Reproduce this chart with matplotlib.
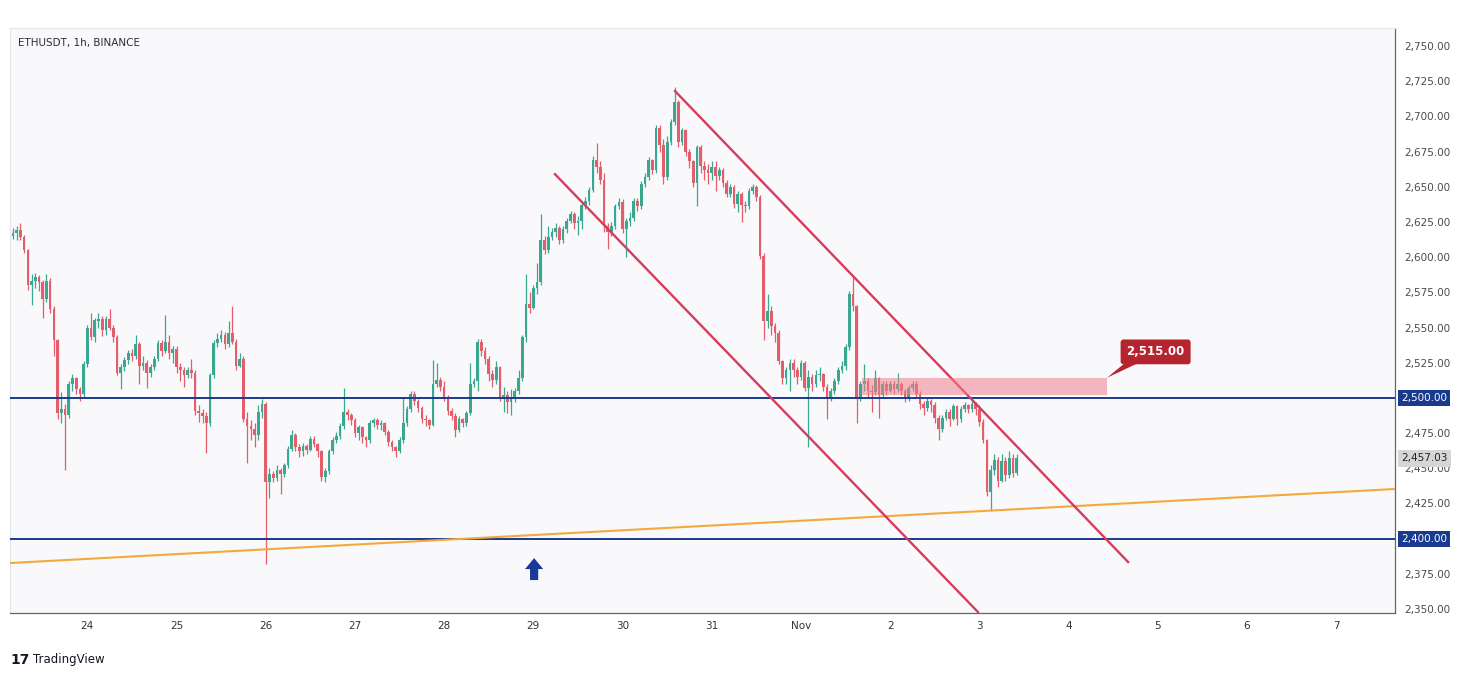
import numpy as np
import matplotlib.pyplot as plt
from matplotlib.patches import Rectangle, Polygon

plt.rcParams['font.family'] = 'DejaVu Sans'

#----------------------------------------------
# ETHUSDT 1h candles, Oct 23 04:00 -> Nov 3 10:00
#----------------------------------------------
first_open = 2615

closes = (
    [2617, 2619, 2614, 2605, 2580, 2583, 2586, 2582, 2570, 2583, 2563, 2541, 2489, 2492, 2488, 2510, 2514, 2506, 2503, 2524]  # Oct 23
  + [2550, 2543, 2555, 2556, 2548, 2556, 2550, 2543, 2518, 2522, 2527, 2532, 2530, 2538, 2523, 2525, 2518, 2522, 2528, 2539, 2533, 2540, 2532, 2535]  # Oct 24
  + [2522, 2520, 2516, 2520, 2518, 2491, 2489, 2487, 2482, 2516, 2539, 2542, 2545, 2538, 2546, 2540, 2523, 2528, 2485, 2480, 2478, 2474, 2490, 2496]  # Oct 25
  + [2440, 2446, 2443, 2449, 2446, 2452, 2464, 2474, 2465, 2462, 2466, 2463, 2471, 2467, 2462, 2444, 2448, 2462, 2470, 2473, 2480, 2490, 2488, 2484]  # Oct 26
  + [2475, 2479, 2472, 2470, 2482, 2484, 2481, 2482, 2476, 2469, 2465, 2462, 2470, 2482, 2492, 2503, 2498, 2493, 2485, 2484, 2481, 2510, 2513, 2508]  # Oct 27
  + [2501, 2491, 2487, 2477, 2485, 2482, 2489, 2510, 2512, 2540, 2533, 2528, 2517, 2513, 2522, 2500, 2502, 2497, 2499, 2505, 2514, 2543, 2567, 2564]  # Oct 28
  + [2578, 2582, 2612, 2605, 2614, 2618, 2621, 2612, 2620, 2626, 2631, 2624, 2626, 2637, 2640, 2648, 2669, 2664, 2655, 2622, 2618, 2622, 2636, 2639]  # Oct 29
  + [2620, 2626, 2628, 2640, 2636, 2652, 2657, 2669, 2662, 2692, 2680, 2657, 2682, 2696, 2710, 2682, 2690, 2675, 2668, 2653, 2678, 2665, 2662, 2660]  # Oct 30
  + [2664, 2658, 2662, 2653, 2645, 2650, 2638, 2645, 2637, 2636, 2647, 2650, 2643, 2601, 2555, 2562, 2551, 2546, 2526, 2514, 2520, 2525, 2520, 2515]  # Oct 31
  + [2525, 2507, 2515, 2510, 2516, 2517, 2508, 2500, 2505, 2512, 2520, 2523, 2536, 2574, 2565, 2500, 2510, 2512, 2505, 2504, 2514, 2502, 2510, 2505]  # Nov 1
  + [2510, 2506, 2510, 2505, 2500, 2507, 2510, 2503, 2496, 2493, 2498, 2495, 2486, 2478, 2486, 2490, 2485, 2494, 2485, 2492, 2495, 2492, 2496, 2492]  # Nov 2
  + [2483, 2470, 2433, 2449, 2456, 2441, 2455, 2445, 2457, 2447, 2457.03]  # Nov 3
)

highs = (
    [2621, 2622, 2624, 2616, 2606, 2588, 2589, 2587, 2584, 2588, 2585, 2565, 2542, 2504, 2496, 2512, 2517, 2515, 2508, 2526]
  + [2552, 2560, 2557, 2560, 2558, 2558, 2563, 2552, 2545, 2524, 2529, 2534, 2535, 2545, 2540, 2530, 2527, 2524, 2530, 2541, 2541, 2559, 2545, 2537]
  + [2537, 2525, 2522, 2522, 2528, 2520, 2495, 2492, 2490, 2518, 2541, 2546, 2548, 2547, 2555, 2565, 2542, 2532, 2530, 2490, 2484, 2482, 2495, 2499]
  + [2497, 2450, 2448, 2452, 2450, 2454, 2466, 2477, 2475, 2467, 2468, 2467, 2473, 2473, 2468, 2463, 2450, 2464, 2472, 2476, 2482, 2507, 2492, 2489]
  + [2486, 2481, 2480, 2473, 2484, 2486, 2486, 2484, 2483, 2477, 2470, 2466, 2472, 2500, 2494, 2505, 2505, 2499, 2494, 2488, 2485, 2527, 2525, 2515]
  + [2512, 2502, 2493, 2489, 2487, 2486, 2491, 2525, 2514, 2542, 2542, 2536, 2530, 2520, 2526, 2523, 2508, 2505, 2506, 2507, 2520, 2545, 2588, 2575]
  + [2580, 2596, 2631, 2615, 2622, 2621, 2624, 2622, 2622, 2628, 2633, 2632, 2629, 2639, 2643, 2650, 2672, 2681, 2668, 2660, 2624, 2625, 2638, 2642]
  + [2641, 2628, 2632, 2642, 2642, 2654, 2660, 2671, 2670, 2694, 2694, 2684, 2686, 2698, 2721, 2712, 2692, 2690, 2677, 2669, 2680, 2680, 2668, 2666]
  + [2668, 2668, 2664, 2663, 2655, 2652, 2651, 2647, 2646, 2640, 2649, 2652, 2651, 2644, 2603, 2574, 2565, 2553, 2548, 2527, 2522, 2528, 2528, 2522]
  + [2527, 2526, 2520, 2517, 2520, 2522, 2518, 2510, 2507, 2514, 2522, 2526, 2538, 2576, 2586, 2566, 2512, 2524, 2514, 2509, 2520, 2515, 2512, 2512]
  + [2512, 2512, 2518, 2511, 2506, 2509, 2512, 2512, 2505, 2498, 2500, 2499, 2497, 2488, 2488, 2492, 2492, 2496, 2495, 2494, 2497, 2496, 2498, 2497]
  + [2495, 2485, 2471, 2452, 2460, 2458, 2460, 2458, 2462, 2460, 2460]
)

lows = (
    [2613, 2612, 2612, 2603, 2577, 2566, 2578, 2576, 2557, 2568, 2560, 2530, 2485, 2482, 2449, 2486, 2505, 2503, 2498, 2501]
  + [2522, 2541, 2540, 2550, 2544, 2545, 2548, 2540, 2516, 2506, 2519, 2524, 2526, 2528, 2510, 2520, 2507, 2515, 2520, 2526, 2530, 2532, 2528, 2525]
  + [2518, 2512, 2508, 2514, 2514, 2488, 2483, 2482, 2461, 2480, 2514, 2536, 2540, 2535, 2536, 2538, 2520, 2522, 2483, 2454, 2470, 2465, 2470, 2486]
  + [2382, 2429, 2440, 2441, 2432, 2444, 2450, 2462, 2462, 2458, 2459, 2460, 2462, 2465, 2458, 2441, 2440, 2446, 2460, 2468, 2471, 2478, 2484, 2481]
  + [2472, 2470, 2468, 2465, 2468, 2479, 2478, 2477, 2474, 2466, 2462, 2458, 2461, 2468, 2480, 2490, 2495, 2490, 2482, 2480, 2478, 2480, 2508, 2505]
  + [2498, 2488, 2484, 2472, 2476, 2479, 2480, 2488, 2508, 2505, 2530, 2524, 2512, 2508, 2510, 2498, 2490, 2489, 2488, 2497, 2503, 2512, 2540, 2560]
  + [2563, 2574, 2580, 2602, 2603, 2612, 2614, 2609, 2610, 2617, 2624, 2620, 2616, 2620, 2634, 2637, 2646, 2660, 2652, 2618, 2606, 2615, 2620, 2634]
  + [2617, 2600, 2622, 2626, 2633, 2634, 2650, 2655, 2659, 2660, 2675, 2652, 2655, 2680, 2694, 2678, 2680, 2672, 2663, 2650, 2636, 2660, 2655, 2652]
  + [2655, 2647, 2655, 2650, 2643, 2643, 2635, 2632, 2625, 2632, 2634, 2645, 2640, 2599, 2541, 2550, 2545, 2540, 2524, 2510, 2510, 2505, 2515, 2510]
  + [2513, 2505, 2465, 2505, 2508, 2512, 2505, 2485, 2498, 2503, 2510, 2518, 2520, 2534, 2562, 2482, 2498, 2505, 2500, 2490, 2502, 2486, 2500, 2502]
  + [2504, 2503, 2504, 2502, 2497, 2498, 2505, 2500, 2492, 2488, 2491, 2490, 2482, 2470, 2476, 2484, 2480, 2484, 2481, 2483, 2490, 2489, 2490, 2488]
  + [2480, 2468, 2430, 2420, 2445, 2437, 2440, 2441, 2443, 2444, 2445]
)

day_pos    = [20, 44, 68, 92, 116, 140, 164, 188, 212, 236, 260, 284, 308, 332, 356]
day_labels = ['24', '25', '26', '27', '28', '29', '30', '31', 'Nov', '2', '3', '4', '5', '6', '7']

levels     = [2500, 2400]
zone       = (228.4, 294.3, 2502, 2514)      # resistance zone (bar from, bar to, low, high)
zone_price = 2515.00
trend_pts  = [(-0.8, 2382.7), (371.8, 2435.3)]
chan_upper = [(178.1, 2718.0), (300.0, 2383.4)]
chan_lower = [(145.8, 2659.0), (259.6, 2347.9)]
arrow_x, arrow_y0, arrow_y1 = 140.2, 2370.6, 2386.2

GREEN = '#3aa891'
RED   = '#e45d6b'
NAVY  = '#1a3a8f'

#----------------------------------------------
fig = plt.figure(figsize=(14.69, 6.77), dpi=100)
fig.patch.set_facecolor('white')
ax = fig.add_axes([10/1469, 1-613/677, 1385/1469, 585/677])
ax.set_facecolor('#f9f9fb')

c = np.array(closes, dtype=float)
o = np.r_[first_open, c[:-1]]
h = np.maximum(np.array(highs, dtype=float), np.maximum(o, c))
l = np.minimum(np.array(lows, dtype=float), np.minimum(o, c))
idx = np.arange(len(c))
col = np.where(c >= o, GREEN, RED)

ax.vlines(idx, l, h, color=col, lw=0.9, zorder=3)
ax.bar(idx, np.maximum(np.abs(c - o), 0.8), bottom=np.minimum(o, c), width=0.72,
       color=col, lw=0, zorder=4)

# horizontal levels
for lv in levels:
    ax.axhline(lv, color=NAVY, lw=1.4, zorder=5)
    ax.text(1.0 + 6/1385, lv, f'{lv:,.2f}', transform=ax.get_yaxis_transform(),
            ha='left', va='center', fontsize=7.5, color='white', clip_on=False,
            bbox=dict(boxstyle='square,pad=0.3', fc=NAVY, ec='none'), zorder=10)

# last price tag
ax.text(1.0 + 6/1385, c[-1], f'{c[-1]:,.2f}', transform=ax.get_yaxis_transform(),
        ha='left', va='center', fontsize=7.5, color='#222222', clip_on=False,
        bbox=dict(boxstyle='square,pad=0.3', fc='#d6d6d6', ec='none'), zorder=10)

# rising trendline
ax.plot([p[0] for p in trend_pts], [p[1] for p in trend_pts], color='#f5a93a', lw=1.5, zorder=5)

# descending channel
ax.plot([p[0] for p in chan_upper], [p[1] for p in chan_upper], color='#d93b5c', lw=1.7, zorder=6)
ax.plot([p[0] for p in chan_lower], [p[1] for p in chan_lower], color='#d93b5c', lw=1.7, zorder=6)

# resistance zone
ax.add_patch(Rectangle((zone[0], zone[2]), zone[1] - zone[0], zone[3] - zone[2],
                       fc='#f07f8c', ec='none', alpha=0.55, zorder=7))

# price callout
ax.add_patch(Polygon([(zone[1] + 5.2, 2525.5), (zone[1] + 9.0, 2525.5), (zone[1], zone[3] + 0.3)],
                     closed=True, fc='#b5242f', ec='none', zorder=8))
ax.text(zone[1] + 13.1, 2532.7, f'{zone_price:,.2f}', ha='center', va='center',
        fontsize=8.5, fontweight='bold', color='white', zorder=9,
        bbox=dict(boxstyle='round,pad=0.5,rounding_size=0.25', fc='#b5242f', ec='none'))

# up arrow
hw, sw, hl = 2.45, 1.1, 7.8
ax.add_patch(Polygon([(arrow_x - sw, arrow_y0), (arrow_x + sw, arrow_y0),
                      (arrow_x + sw, arrow_y1 - hl), (arrow_x + hw, arrow_y1 - hl),
                      (arrow_x, arrow_y1), (arrow_x - hw, arrow_y1 - hl),
                      (arrow_x - sw, arrow_y1 - hl)],
                     closed=True, fc='#1a3a9a', ec='none', zorder=8))

# axes
ax.set_xlim(-0.8, 371.8)
ax.set_ylim(2347.2, 2762.8)
ax.yaxis.tick_right()
yt = np.arange(2350, 2751, 25)
ax.set_yticks(yt)
# levels carry their own tags on the price scale
ax.set_yticklabels(['' if v in levels else f'{v:,.2f}' for v in yt], fontsize=7.5, color='#4a4a4a')
ax.tick_params(axis='y', length=0, pad=7)
ax.set_xticks(day_pos)
ax.set_xticklabels(day_labels, fontsize=7.5, color='#333333')
ax.tick_params(axis='x', length=0, pad=6)
for s in ['top', 'left']:
    ax.spines[s].set_color('#e3e5ea')
    ax.spines[s].set_linewidth(0.8)
for s in ['right', 'bottom']:
    ax.spines[s].set_color('#666666')
    ax.spines[s].set_linewidth(0.9)

fig.text(18/1469, 1-43/677, 'ETHUSDT, 1h, BINANCE', fontsize=7.5, color='#2a2e39', va='center')
fig.text(10/1469, 1-660/677, '17', fontsize=10, fontweight='bold', color='#131722', va='center')
fig.text(33/1469, 1-660/677, 'TradingView', fontsize=8.5, color='#131722', va='center')

fig.savefig('out.png', dpi=100, facecolor='white')
